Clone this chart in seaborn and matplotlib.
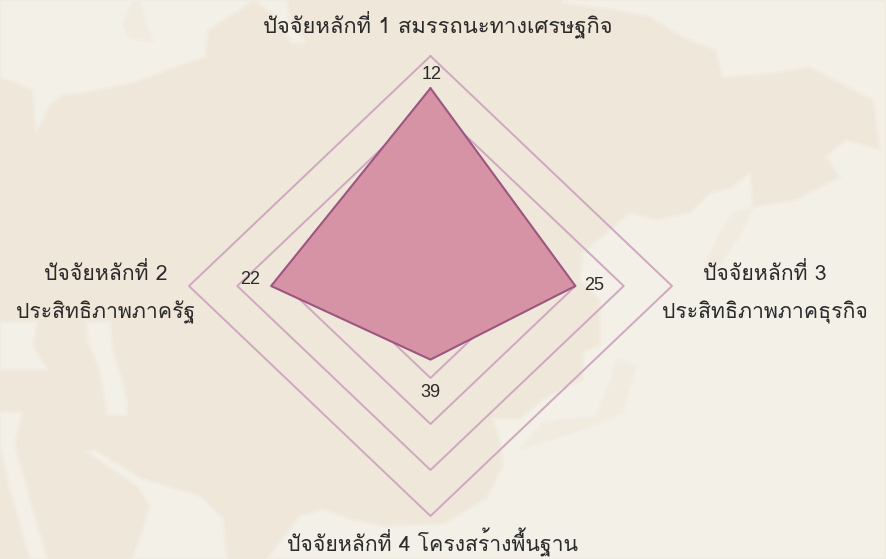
import numpy as np
import pandas as pd
import seaborn as sns
from matplotlib import pyplot as plt

# factor ranks, the axis runs from 55 at the centre to 5 on the outer ring
pillars = ["ปัจจัยหลักที่ 1 สมรรถนะทางเศรษฐกิจ", "ปัจจัยหลักที่ 3\nประสิทธิภาพภาคธุรกิจ",
           "ปัจจัยหลักที่ 4 โครงสร้างพื้นฐาน", "ปัจจัยหลักที่ 2\nประสิทธิภาพภาครัฐ"]
ranks = [12, 25, 39, 22]
ring_values = [45, 35, 25, 15, 5]
axis_center = 55
axis_outer = 5

# faint map behind the chart, traced by eye in pixels
sea_patches = [
    [(0, 0), (253, 0), (240, 10), (208, 30), (205, 57), (167, 70), (133, 83), (83, 93), (63, 95),
     (50, 105), (36, 133), (33, 90), (0, 77)],
    [(563, 0), (563, 3), (616, 10), (650, 17), (683, 37), (716, 50), (723, 77), (776, 73), (810, 67),
     (873, 100), (880, 150), (846, 140), (826, 157), (840, 177), (796, 200), (753, 207), (750, 173),
     (733, 187), (710, 193), (690, 213), (656, 220), (630, 213), (610, 230), (583, 253), (580, 280),
     (600, 300), (600, 345), (583, 352), (583, 379), (543, 399), (520, 419), (493, 419), (500, 439),
     (503, 466), (486, 499), (443, 524), (383, 526), (350, 519), (323, 509), (300, 516), (267, 559),
     (886, 559), (886, 0)],
    [(133, 559), (150, 506), (137, 486), (87, 452), (95, 450), (140, 478), (200, 496), (223, 519), (227, 559)],
    [(0, 322), (37, 322), (33, 345), (47, 370), (0, 370)],
    [(0, 412), (22, 412), (15, 445), (27, 490), (47, 559), (30, 559), (10, 490), (0, 445)],
    [(87, 322), (110, 322), (113, 350), (127, 400), (127, 415), (107, 415), (100, 370), (87, 340)],
    [(253, 0), (287, 0), (290, 20), (305, 43), (292, 43), (275, 15)],
]
land_patches = [
    [(133, 0), (122, 25), (130, 38), (153, 42), (145, 20), (140, 0)],
    [(753, 207), (733, 213), (716, 240), (706, 263), (703, 279), (720, 265), (740, 235)],
    [(616, 359), (636, 366), (623, 412), (603, 422), (563, 436), (520, 449), (543, 422), (596, 416), (610, 382)],
]

sns.set_theme(style="white")
plt.rcParams["font.family"] = ["Loma", "DejaVu Sans"]

ring_color = "#cfa8c0"
line_color = "#9c5680"
fill_color = "#d693a6"
text_color = "#2b2b2b"
land_color = "#efe7da"
sea_color = "#f3f0e8"

fig = plt.figure(figsize=(8.86, 5.59), dpi=100, facecolor=land_color)
bg = fig.add_axes([0, 0, 1, 1])
bg.set_xlim(0, 886)
bg.set_ylim(559, 0)
bg.axis("off")
for patch in sea_patches:
    xs, ys = zip(*patch)
    bg.fill(xs, ys, facecolor=sea_color, edgecolor="#f1ece2", lw=2)
for patch in land_patches:
    xs, ys = zip(*patch)
    bg.fill(xs, ys, facecolor="#f0eadf", edgecolor="#f1ede4", lw=2)

# one unit on the radial scale is 241.5 px across and 230 px down
ax = fig.add_axes([0, 0, 1, 1])
ax.patch.set_alpha(0)
ax.set_xlim(-430.5 / 241.5, (886 - 430.5) / 241.5)
ax.set_ylim(-(559 - 286) / 230, 286 / 230)
ax.axis("off")

dir_x = np.array([0, 1, 0, -1])
dir_y = np.array([1, 0, -1, 0])


def radius(v):
    return (axis_center - np.asarray(v, dtype=float)) / (axis_center - axis_outer)


rows = []
for ring in ring_values:
    r = radius(ring)
    for i in [0, 1, 2, 3, 0]:
        rows.append({"ring": ring, "x": dir_x[i] * r, "y": dir_y[i] * r})
rings = pd.DataFrame(rows)
sns.lineplot(data=rings, x="x", y="y", units="ring", estimator=None, sort=False,
             color=ring_color, linewidth=1.4, legend=False, ax=ax, zorder=2)

r = radius(ranks)
px = np.append(dir_x * r, dir_x[0] * r[0])
py = np.append(dir_y * r, dir_y[0] * r[0])
ax.fill(px, py, color=fill_color, lw=0, zorder=3)
sns.lineplot(x=px, y=py, sort=False, estimator=None, color=line_color, linewidth=1.5,
             ax=ax, zorder=4)
ax.set_xlabel("")
ax.set_ylabel("")

# rank labels sit just outside the polygon corners
offsets = [(1, 14), (19, 1), (0, -33), (-21, 6)]
for i, v in enumerate(ranks):
    ax.annotate(str(v), (dir_x[i] * r[i], dir_y[i] * r[i]), xytext=offsets[i],
                textcoords="offset pixels", ha="center", va="center",
                fontsize=13, color=text_color, family="Liberation Sans", zorder=5)

label_pos = [(437.5, 25.5), (765, 293), (433, 542), (106, 293)]
label_sizes = [15.8, 15.3, 15.3, 15.3]
for name, (x, y), size in zip(pillars, label_pos, label_sizes):
    bg.text(x, y, name, ha="center", va="center", fontsize=size, color=text_color,
            linespacing=1.95, zorder=6)

fig.savefig("out.png", dpi=100)
